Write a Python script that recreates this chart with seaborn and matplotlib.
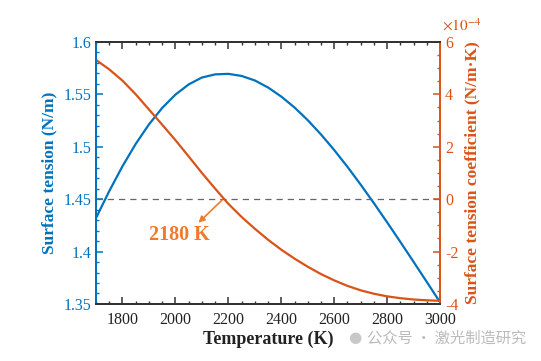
import matplotlib
matplotlib.use("Agg")
import matplotlib.pyplot as plt
from matplotlib.ticker import MultipleLocator
import seaborn as sns
import pandas as pd

# Data
temperature = [1700, 1750, 1800, 1850, 1900, 1950, 2000, 2050, 2100, 2150,
               2200, 2250, 2300, 2350, 2400, 2450, 2500, 2550, 2600, 2650,
               2700, 2750, 2800, 2850, 2900, 2950, 3000]
surface_tension = [1.432, 1.4577, 1.4814, 1.5027, 1.5213, 1.5370, 1.5497,
                   1.5594, 1.5660, 1.5690, 1.5695, 1.5675, 1.5632, 1.5565,
                   1.5478, 1.5374, 1.5253, 1.5117, 1.4968, 1.4808, 1.4638,
                   1.4461, 1.4278, 1.4091, 1.3901, 1.3709, 1.3516]
# in units of 1e-4 N/(m K)
tension_coeff = [5.31, 4.95, 4.52, 4.00, 3.42, 2.84, 2.25, 1.63, 1.00, 0.40,
                 -0.18, -0.68, -1.13, -1.55, -1.93, -2.27, -2.58, -2.86,
                 -3.10, -3.31, -3.48, -3.61, -3.71, -3.78, -3.83, -3.86, -3.88]
left_ticks = [1.35, 1.4, 1.45, 1.5, 1.55, 1.6]
left_tick_labels = ["1.35", "1.4", "1.45", "1.5", "1.55", "1.6"]
right_ticks = [-4, -2, 0, 2, 4, 6]
x_ticks = [1800, 2000, 2200, 2400, 2600, 2800, 3000]
zero_temp = 2180

blue = "#0072BD"
orange = "#D95319"
label_orange = "#F07A2C"
dark = "#333333"

df = pd.DataFrame({"T": temperature, "sigma": surface_tension, "dsigma": tension_coeff})

sns.set_style("ticks")
plt.rcParams["font.family"] = ["Liberation Serif", "DejaVu Serif"]
plt.rcParams["mathtext.fontset"] = "stix"
plt.rcParams["axes.unicode_minus"] = False

fig = plt.figure(figsize=(5.41, 3.61), dpi=100)
ax = fig.add_axes([0.1775, 0.158, 0.636, 0.726])
ax2 = ax.twinx()

sns.lineplot(data=df, x="T", y="sigma", ax=ax, color=blue, linewidth=1.6)
sns.lineplot(data=df, x="T", y="dsigma", ax=ax2, color=orange, linewidth=1.6)

# zero line of the coefficient
ax2.axhline(0, color="#666666", linestyle=(0, (5, 4)), linewidth=0.9, zorder=0)

ax.set_xlim(1700, 3000)
ax.set_ylim(1.35, 1.6)
ax2.set_ylim(-4, 6)

ax.set_xticks(x_ticks)
ax.xaxis.set_minor_locator(MultipleLocator(50))
ax.set_yticks(left_ticks)
ax.set_yticklabels(left_tick_labels)
ax.yaxis.set_minor_locator(MultipleLocator(0.01))
ax2.set_yticks(right_ticks)
ax2.yaxis.set_minor_locator(MultipleLocator(0.5))

ax.tick_params(axis="x", which="both", direction="in", top=True, bottom=True,
               colors=dark, labelsize=11.5, pad=6)
ax.tick_params(axis="x", which="major", length=5, width=1.1)
ax.tick_params(axis="x", which="minor", length=2.5, width=1.0)
ax.tick_params(axis="y", which="both", direction="in", colors=blue, labelsize=11.5)
ax.tick_params(axis="y", which="major", length=5, width=1.1)
ax.tick_params(axis="y", which="minor", length=2.5, width=1.0)
ax2.tick_params(axis="y", which="both", direction="in", colors=orange, labelsize=11.5)
ax2.tick_params(axis="y", which="major", length=5, width=1.1)
ax2.tick_params(axis="y", which="minor", length=2.5, width=1.0)
ax.tick_params(axis="x", labelcolor="#222222")

for a in (ax, ax2):
    for s in a.spines.values():
        s.set_linewidth(1.4)
        s.set_color(dark)
ax2.spines["left"].set_color(blue)
ax2.spines["right"].set_color(orange)
ax.spines["left"].set_color(blue)
ax.spines["right"].set_visible(False)

ax.set_xlabel("Temperature (K)", fontsize=13, fontweight="bold", color="#222222", labelpad=2)
ax.set_ylabel("Surface tension (N/m)", fontsize=12.5, fontweight="bold", color=blue, labelpad=4)
ax2.set_ylabel("Surface tension coefficient (N/m·K)", fontsize=12.5, fontweight="bold",
               color=orange, labelpad=4)

ax2.text(1.005, 1.03, r"$\times10^{-4}$", transform=ax2.transAxes, color=orange,
         fontsize=11, ha="left", va="bottom")

# arrow from the zero crossing down to the label
ax2.annotate("", xy=(2087, -0.9), xytext=(zero_temp, 0),
             arrowprops=dict(arrowstyle="-|>", color=label_orange, lw=1.2,
                             mutation_scale=9, shrinkA=1, shrinkB=0))
ax2.text(2015, -1.37, "2180 K", ha="center", va="center", fontsize=14.5,
         fontweight="bold", color=label_orange)

# watermark
fig.text(0.655, 0.064, "\u25CF", color="#C8C8C8", fontsize=11, ha="center", va="center",
         family=["DejaVu Sans"])
fig.text(0.678, 0.064, "公众号 · 激光制造研究", color="#BBBBBB", fontsize=11,
         family=["Noto Sans CJK SC", "DejaVu Sans"], ha="left", va="center")

fig.savefig("out.png", dpi=100, facecolor="white")
